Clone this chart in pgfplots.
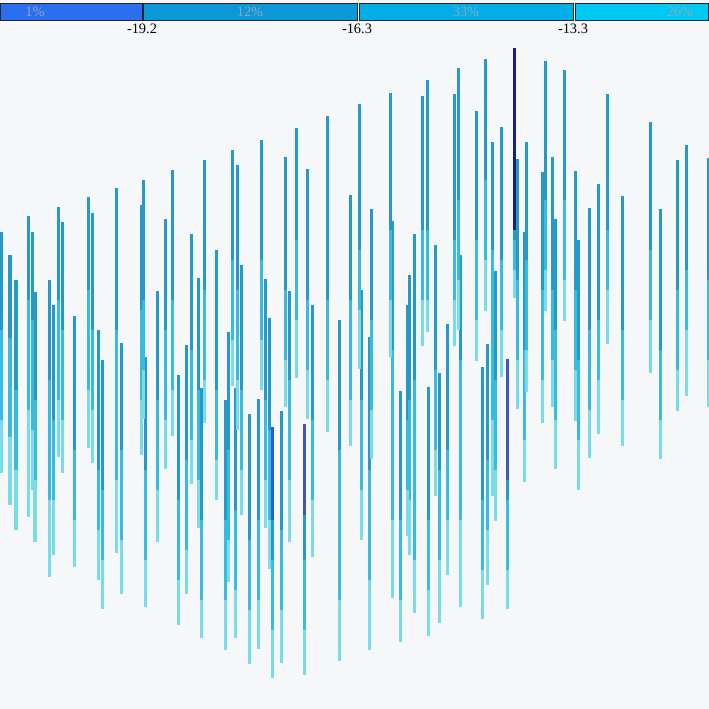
\documentclass[border=0pt]{standalone}
\usepackage{pgfplots}
\usepackage{pgfplotstable}
\usepackage{fontspec}
\setmainfont{Liberation Serif}
\pgfplotsset{compat=1.18}

\definecolor{bg}{HTML}{F5F7F9}
\definecolor{cdark}{HTML}{2799C6}
\definecolor{cmid}{HTML}{36BCDD}
\definecolor{clight}{HTML}{78DDE9}
\definecolor{cnavy}{HTML}{1B1F7A}
\definecolor{cblue}{HTML}{2A5AD6}
\definecolor{cslate}{HTML}{4057B5}
\definecolor{box1}{HTML}{2B6FF0}
\definecolor{box2}{HTML}{0A98D8}
\definecolor{box3}{HTML}{02AEE6}
\definecolor{box4}{HTML}{00C8F5}
\definecolor{lbl}{HTML}{8FA6C4}

% x  top  end-dark  end-mid  bottom  (pixel units, y downwards)
\pgfplotstableread{
x t a b e
1 232 330 420 473
10 255 338 437 505
16 280 390 470 530
28 216 300 410 517
32 232 320 430 490
35 292 400 480 542
49 280 380 500 577
53 305 420 500 555
58 207 300 400 457
62 222 330 420 473
74 316 450 520 567
88 197 290 390 448
92 213 330 410 463
98 330 470 530 580
102 360 490 560 609
116 188 330 480 553
121 343 450 540 594
141 205 310 400 455
143 180 300 370 419
145 357 470 560 607
157 291 400 490 542
165 219 330 420 469
172 170 300 390 436
178 375 500 580 625
186 345 460 550 594
191 234 350 440 484
198 278 390 480 528
201 388 520 600 638
204 160 290 380 423
216 250 390 460 500
225 400 520 600 650
228 332 450 540 582
232 150 260 340 386
235 388 510 590 638
237 165 290 380 430
241 265 390 470 515
249 414 540 610 664
258 399 520 600 649
261 140 260 340 390
265 279 400 480 528
269 318 430 520 569
272 427 560 630 678
281 411 530 610 663
285 157 290 360 407
289 291 380 480 542
296 128 240 320 378
304 424 560 630 675
307 169 300 370 419
312 305 420 500 557
327 116 300 380 432
339 320 450 600 661
350 195 300 400 446
359 104 250 310 369
361 290 400 490 540
369 337 470 580 650
371 209 320 410 459
390 93 230 300 357
392 221 350 520 598
400 391 520 600 642
407 305 420 490 536
409 275 400 500 555
414 234 380 560 613
422 96 230 300 346
427 80 230 300 332
428 387 520 590 636
435 245 370 450 496
439 373 470 560 623
447 324 450 520 575
454 94 240 300 346
458 68 200 280 330
460 255 360 520 607
476 111 240 320 361
482 367 500 570 619
485 59 180 260 311
487 344 460 530 585
492 142 250 420 496
495 271 380 470 521
501 127 260 330 377
507 359 500 570 609
514 48 240 270 298
517 159 280 360 409
524 232 350 440 482
526 142 260 350 392
542 172 290 380 423
545 61 200 270 311
552 157 290 360 407
555 219 330 420 469
564 70 200 280 321
575 171 290 370 421
578 240 360 440 490
589 208 330 410 458
598 184 320 380 434
607 94 230 290 344
622 196 330 400 446
650 122 250 320 373
660 209 350 420 459
677 160 290 370 411
686 145 270 330 396
708 158 280 360 407
}\lines

\pgfplotstableread{
x t a
514 48 230
}\navyseg
\pgfplotstableread{
x t a
272 427 520
}\blueseg
\pgfplotstableread{
x t a
304 424 515
507 359 480
}\slateseg

\pgfplotsset{
  seg/.style={draw=none, mark=none, forget plot, line width=1.5pt,
    error bars/.cd, y dir=plus, y explicit, error mark=none,
    error bar style={solid, line width=1.5pt, draw=#1}},
}

\begin{document}
\begin{tikzpicture}
\begin{axis}[
  width=354.5pt, height=354.5pt, scale only axis,
  xmin=0, xmax=709, ymin=0, ymax=709,
  y dir=reverse,
  axis lines=none,
  clip=true,
]
\fill[bg] (axis cs:0,0) rectangle (axis cs:709,709);

\addplot[seg=cdark] table[x=x, y=t, y error expr=\thisrow{a}-\thisrow{t}] {\lines};
\addplot[seg=cmid] table[x=x, y=a, y error expr=\thisrow{b}-\thisrow{a}] {\lines};
\addplot[seg=clight] table[x=x, y=b, y error expr=\thisrow{e}-\thisrow{b}] {\lines};
\addplot[seg=cnavy] table[x=x, y=t, y error expr=\thisrow{a}-\thisrow{t}] {\navyseg};
\addplot[seg=cblue] table[x=x, y=t, y error expr=\thisrow{a}-\thisrow{t}] {\blueseg};
\addplot[seg=cslate] table[x=x, y=t, y error expr=\thisrow{a}-\thisrow{t}] {\slateseg};

% colour scale at the top
\begin{scope}[draw=black!85, line width=0.5pt]
\filldraw[fill=box1] (axis cs:0.5,3) rectangle (axis cs:142,20);
\filldraw[fill=box2] (axis cs:143,3) rectangle (axis cs:357,20);
\filldraw[fill=box3] (axis cs:359,3) rectangle (axis cs:573,20);
\filldraw[fill=box4] (axis cs:575,3) rectangle (axis cs:708.5,20);
\end{scope}
\begin{scope}[font=\fontsize{7.2}{8}\selectfont]
\node[text=lbl] at (axis cs:35,11.5) {1\%};
\node[text=lbl] at (axis cs:250,11.5) {12\%};
\node[text=lbl] at (axis cs:466,11.5) {33\%};
\node[text=lbl] at (axis cs:680,11.5) {26\%};
\node at (axis cs:142,29) {-19.2};
\node at (axis cs:357,29) {-16.3};
\node at (axis cs:573,29) {-13.3};
\end{scope}
\end{axis}
\end{tikzpicture}
\end{document}
